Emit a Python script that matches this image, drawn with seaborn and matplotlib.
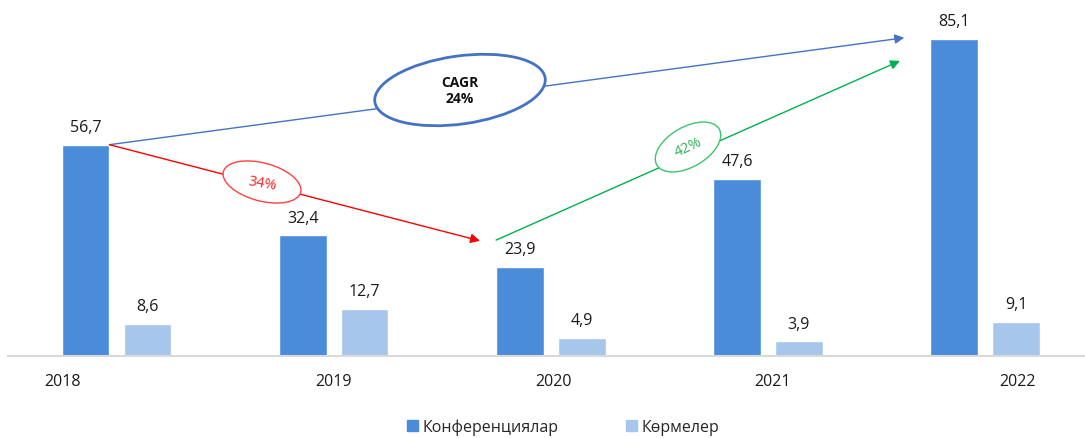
import matplotlib
matplotlib.use("Agg")
import matplotlib.pyplot as plt
import matplotlib.transforms as mtransforms
from matplotlib.patches import Ellipse
import pandas as pd
import seaborn as sns

# data
years = ["2018", "2019", "2020", "2021", "2022"]
conferences = [56.7, 32.4, 23.9, 47.6, 85.1]
exhibitions = [8.6, 12.7, 4.9, 3.9, 9.1]
series_names = ["Конференциялар", "Көрмелер"]
colors = ["#4A8BDA", "#A6C6EC"]

df = pd.DataFrame(
    dict(
        year=years * 2,
        value=conferences + exhibitions,
        series=[series_names[0]] * len(years) + [series_names[1]] * len(years),
    )
)

sns.set_theme(style="white")
plt.rcParams["font.family"] = ["Open Sans", "Noto Sans", "DejaVu Sans"]

fig = plt.figure(figsize=(10.85, 4.39), dpi=100)
ax = fig.add_axes([8 / 1085, 82 / 439, 1 - 8 / 1085, 1 - 82 / 439])

sns.barplot(
    data=df, x="year", y="value", hue="series", hue_order=series_names,
    palette=colors, width=0.57, gap=0.23, saturation=1, legend=False, ax=ax,
)

ax.set_xlim(-0.5, 4.46)
ax.set_ylim(0, 95.8)
for c in ax.containers:
    ax.bar_label(
        c, labels=[f"{v:.1f}".replace(".", ",") for v in c.datavalues],
        padding=7, fontsize=11.5, color="#1a1a1a",
    )

# odd tick placement in the original
tick_pos = [-0.25, 1.0, 2.01, 3.02, 4.15]
ax.set_xticks(tick_pos, years, fontsize=11.5, color="#1a1a1a")
ax.tick_params(axis="x", length=0, pad=12)
ax.set_yticks([])
ax.set_xlabel("")
ax.set_ylabel("")
for s in ["top", "right", "left"]:
    ax.spines[s].set_visible(False)
ax.spines["bottom"].set_color("#D9D9D9")
ax.spines["bottom"].set_linewidth(1.5)

# arrows tied to the conference bars
bars = ax.containers[0].patches
b18, b20, b22 = bars[0], bars[2], bars[4]
start = (b18.get_x() + b18.get_width(), b18.get_height())


def arrow(p0, p1, color):
    ax.annotate(
        "", xy=p1, xytext=p0,
        arrowprops=dict(arrowstyle="-|>", color=color, lw=1, mutation_scale=14,
                        shrinkA=0, shrinkB=0),
    )


arrow(start, (b22.get_x() - 0.12, b22.get_height() + 0.3), "#4472C4")
arrow(start, (b20.get_x() - 0.074, 30.9), "#FF0000")
arrow((b20.get_x(), 31.1), (b22.get_x() - 0.14, 79.2), "#00B050")

# ellipses placed in pixel units of the picture
px = mtransforms.Affine2D().scale(1 / 100) + fig.dpi_scale_trans


def ellipse(cx, cy, w, h, angle, color, lw):
    e = Ellipse((cx, 439 - cy), w, h, angle=angle, facecolor="white",
                edgecolor=color, lw=lw, transform=px, zorder=5)
    fig.add_artist(e)


ellipse(460, 91, 172, 68, 8, "#4472C4", 2)
ellipse(262, 183, 80, 38, -15, "#FF4040", 1)
ellipse(688, 148, 72, 40, 30, "#3CC46E", 1)

fig.text(460 / 1085, 1 - 91 / 439, "CAGR\n24%", ha="center", va="center",
         fontsize=10, fontweight="bold", color="#111111", zorder=6,
         linespacing=1.1)
fig.text(262 / 1085, 1 - 184 / 439, "34%", ha="center", va="center",
         fontsize=10.5, color="#FF2020", rotation=-10, zorder=6)
fig.text(688 / 1085, 1 - 148 / 439, "42%", ha="center", va="center",
         fontsize=10.5, color="#2DB45A", rotation=25, zorder=6)

# legend at the bottom
handles = [plt.Rectangle((0, 0), 1, 1, color=c) for c in colors]
fig.legend(
    handles, series_names, loc="center", bbox_to_anchor=(0.519, 1 - 428 / 439),
    ncol=2, frameon=False, fontsize=11.5, handlelength=0.7, handleheight=0.7,
    handletextpad=0.3, columnspacing=4.2,
)

fig.savefig("out.png", dpi=100)
